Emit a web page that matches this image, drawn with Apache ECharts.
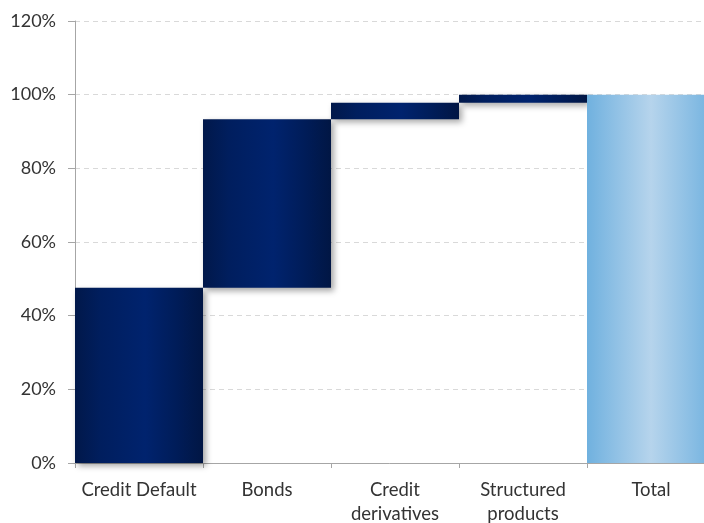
<!DOCTYPE html>
<html>
<head>
<meta charset="utf-8">
<script src="https://cdn.jsdelivr.net/npm/echarts@6/dist/echarts.min.js"></script>
<style>
  html, body { margin: 0; padding: 0; background: #fff; }
  #chart { width: 704px; height: 523px; }
</style>
</head>
<body>
<div id="chart"></div>
<script>
// Waterfall: contribution of each product line to the total (percent)
const categories = ['Credit Default', 'Bonds', 'Credit\nderivatives', 'Structured\nproducts', 'Total'];
const increments = [47.6, 45.7, 4.5, 2.2];
const totalValue = 100;
const yTicks = { min: 0, max: 120, interval: 20 };

// Invisible base for each floating step = running sum of the previous steps
const baseValues = [];
let running = 0;
increments.forEach(v => { baseValues.push(running); running += v; });
baseValues.push(0);
const visibleValues = increments.concat([totalValue]);

const stepFill = new echarts.graphic.LinearGradient(0, 0, 1, 0, [
  { offset: 0, color: '#01184A' },
  { offset: 0.2, color: '#001E5E' },
  { offset: 0.55, color: '#00236E' },
  { offset: 0.8, color: '#001C58' },
  { offset: 1, color: '#011644' }
]);
const totalFill = new echarts.graphic.LinearGradient(0, 0, 1, 0, [
  { offset: 0, color: '#70B1DF' },
  { offset: 0.5, color: '#B6D4EC' },
  { offset: 1, color: '#70B1DF' }
]);

const chart = echarts.init(document.getElementById('chart'));
chart.setOption({
  animation: false,
  grid: { left: 75, top: 21, right: -11, bottom: 60, outerBoundsMode: 'none', containLabel: false },
  xAxis: {
    type: 'category',
    data: categories,
    axisLine: { lineStyle: { color: '#A6A6A6', width: 1 } },
    axisTick: { show: true, length: 5, lineStyle: { color: '#A6A6A6' } },
    axisLabel: {
      color: '#333333', fontFamily: 'Lato', fontSize: 18.5,
      margin: 15, lineHeight: 24, interval: 0
    }
  },
  yAxis: {
    type: 'value',
    min: yTicks.min, max: yTicks.max, interval: yTicks.interval,
    axisLine: { show: true, lineStyle: { color: '#A6A6A6', width: 1 } },
    axisTick: { show: true, length: 7, lineStyle: { color: '#A6A6A6' } },
    axisLabel: {
      color: '#333333', fontFamily: 'Lato', fontSize: 18, margin: 19,
      formatter: '{value}%'
    },
    splitLine: { lineStyle: { color: '#D9D9D9', type: [5, 4] } }
  },
  series: [
    {
      type: 'bar', stack: 'w', data: baseValues,
      itemStyle: { color: 'transparent' },
      barCategoryGap: 0, silent: true
    },
    {
      type: 'bar', stack: 'w', barCategoryGap: 0,
      data: visibleValues.map((v, i) => ({
        value: v,
        itemStyle: i === visibleValues.length - 1
          ? { color: totalFill }
          : {
              color: stepFill,
              shadowColor: 'rgba(0,0,0,0.35)', shadowBlur: 6,
              shadowOffsetX: 3, shadowOffsetY: 3
            }
      }))
    }
  ]
});
</script>
</body>
</html>
